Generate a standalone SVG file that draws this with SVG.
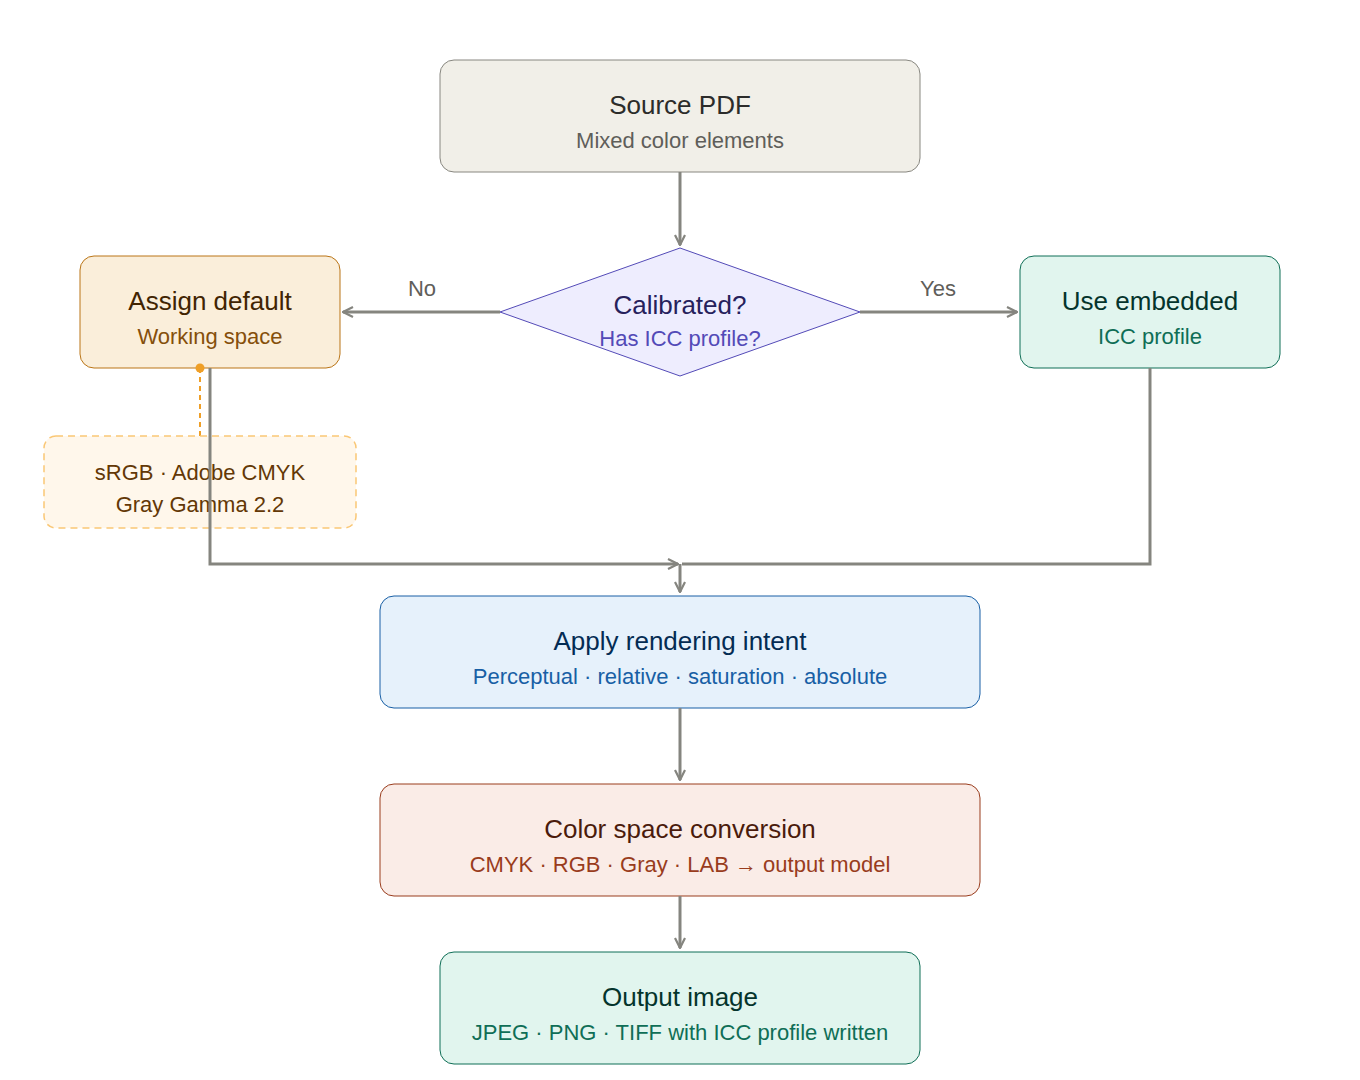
<svg xmlns="http://www.w3.org/2000/svg" width="1360" height="1080" viewBox="0 0 1360 1080">
<style>
text{font-family:"Liberation Sans",Arial,sans-serif;text-anchor:middle}
.t{font-size:26px}.s{font-size:22px}
.c{fill:none;stroke:#85857f;stroke-width:3}
</style>
<defs><marker id="a" viewBox="0 0 12 12" refX="11" refY="6" markerWidth="12" markerHeight="12" markerUnits="userSpaceOnUse" orient="auto"><path d="M1,1 L11,6 L1,11" fill="none" stroke="#85857f" stroke-width="2.2"/></marker></defs>
<rect width="1360" height="1080" fill="#fff"/>
<g id="source"><rect x="440" y="60" width="480" height="112" rx="14" fill="#f1efe8" stroke="#888780"/><text x="680" y="114" class="t" fill="#2c2c2a">Source PDF</text><text x="680" y="148" class="s" fill="#5f5e5a">Mixed color elements</text></g>
<g id="calibrated"><polygon points="680,248 860,312 680,376 500,312" fill="#eeedfe" stroke="#534ab7"/><text x="680" y="314" class="t" fill="#26215c">Calibrated?</text><text x="680" y="346" class="s" fill="#534ab7">Has ICC profile?</text></g>
<g id="assign"><rect x="80" y="256" width="260" height="112" rx="14" fill="#faeeda" stroke="#ba7517"/><text x="210" y="310" class="t" fill="#412402">Assign default</text><text x="210" y="344" class="s" fill="#854f0b">Working space</text></g>
<g id="embedded"><rect x="1020" y="256" width="260" height="112" rx="14" fill="#e1f5ee" stroke="#0f6e56"/><text x="1150" y="310" class="t" fill="#04342c">Use embedded</text><text x="1150" y="344" class="s" fill="#0f6e56">ICC profile</text></g>
<g id="note"><line x1="200" y1="368" x2="200" y2="436" stroke="#ef9f27" stroke-width="2" stroke-dasharray="5,4"/><circle cx="200" cy="368" r="4.5" fill="#ef9f27"/><rect x="44" y="436" width="312" height="92" rx="12" fill="#fff7eb" stroke="#fac775" stroke-width="1.5" stroke-dasharray="7,5"/><text x="200" y="480" class="s" fill="#633806">sRGB · Adobe CMYK</text><text x="200" y="512" class="s" fill="#633806">Gray Gamma 2.2</text></g>
<g id="intent"><rect x="380" y="596" width="600" height="112" rx="14" fill="#e6f1fb" stroke="#185fa5"/><text x="680" y="650" class="t" fill="#042c53">Apply rendering intent</text><text x="680" y="684" class="s" fill="#185fa5">Perceptual · relative · saturation · absolute</text></g>
<g id="conversion"><rect x="380" y="784" width="600" height="112" rx="14" fill="#faece7" stroke="#993c1d"/><text x="680" y="838" class="t" fill="#4a1b0c">Color space conversion</text><text x="680" y="872" class="s" fill="#993c1d">CMYK · RGB · Gray · LAB → output model</text></g>
<g id="output"><rect x="440" y="952" width="480" height="112" rx="14" fill="#e1f5ee" stroke="#0f6e56"/><text x="680" y="1006" class="t" fill="#04342c">Output image</text><text x="680" y="1040" class="s" fill="#0f6e56">JPEG · PNG · TIFF with ICC profile written</text></g>
<g id="connectors">
<line class="c" x1="680" y1="172" x2="680" y2="245" marker-end="url(#a)"/>
<line class="c" x1="500" y1="312" x2="343" y2="312" marker-end="url(#a)"/>
<text x="422" y="296" class="s" fill="#5f5e5a">No</text>
<line class="c" x1="860" y1="312" x2="1017" y2="312" marker-end="url(#a)"/>
<text x="938" y="296" class="s" fill="#5f5e5a">Yes</text>
<polyline class="c" points="210,368 210,564 678,564" marker-end="url(#a)"/>
<polyline class="c" points="1150,368 1150,564 682,564"/>
<line class="c" x1="680" y1="564" x2="680" y2="592" marker-end="url(#a)"/>
<line class="c" x1="680" y1="708" x2="680" y2="780" marker-end="url(#a)"/>
<line class="c" x1="680" y1="896" x2="680" y2="948" marker-end="url(#a)"/>
</g>
</svg>
